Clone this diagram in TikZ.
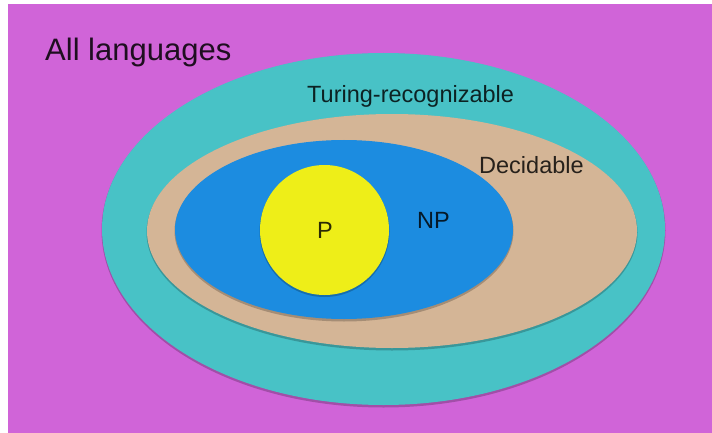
\documentclass[tikz,border=0pt]{standalone}
\usepackage{fontspec}
\setmainfont{Liberation Sans}
\usetikzlibrary{shapes.geometric}
\definecolor{bgmag}{RGB}{208,100,216}
\definecolor{turq}{RGB}{72,194,198}
\definecolor{tanc}{RGB}{212,181,150}
\definecolor{npblue}{RGB}{28,140,224}
\definecolor{pyellow}{RGB}{238,238,24}
\begin{document}
\begin{tikzpicture}[x=1pt,y=-1pt,
  region/.style={ellipse, inner sep=0pt, draw=none},
  shade1/.style={ellipse, inner sep=0pt, draw=none, fill=black, fill opacity=0.22},
  lbl/.style={inner sep=0pt, text=black, text opacity=0.82, font=\fontsize{23.5}{28}\selectfont},
  biglbl/.style={inner sep=0pt, text=black, text opacity=0.85, font=\fontsize{31}{36}\selectfont}]
\useasboundingbox (0,0) rectangle (712,433);
\fill[white] (0,0) rectangle (712,433);
\fill[bgmag] (8,4) rectangle (712,433);
% Turing-recognizable
\node[shade1, minimum width=564, minimum height=354] (trs) at (383.5,230.5) {};
\node[region, fill=turq, minimum width=563, minimum height=352] (tr) at (383.5,229) {};
% Decidable
\node[shade1, minimum width=491, minimum height=236] (decs) at (392,232.5) {};
\node[region, fill=tanc, minimum width=490, minimum height=234] (dec) at (392,231) {};
% NP
\node[shade1, minimum width=339, minimum height=181] (nps) at (344,231) {};
\node[region, fill=npblue, minimum width=338, minimum height=179] (np) at (344,229.5) {};
% P
\node[shade1, minimum width=130, minimum height=131] (ps) at (324.5,231.5) {};
\node[region, fill=pyellow, minimum width=129, minimum height=130] (p) at (324.5,230) {};
% labels
\node[biglbl, anchor=base west] (all) at (45,61) {All languages};
\node[lbl, anchor=base west] (trl) at (307,103) {Turing-recognizable};
\node[lbl, anchor=base west] (decl) at (479,173) {Decidable};
\node[lbl, anchor=base west] (npl) at (417,228) {NP};
\node[lbl, anchor=base west] (pl) at (317,238) {P};
\end{tikzpicture}
\end{document}
